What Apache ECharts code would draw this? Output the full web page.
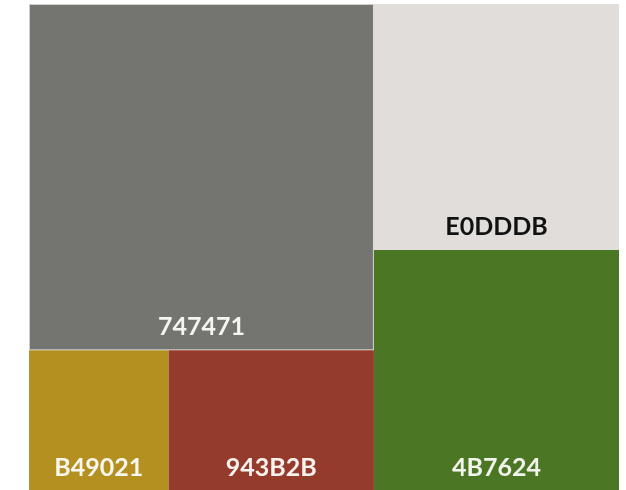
<!DOCTYPE html>
<html>
<head>
<meta charset="utf-8">
<script src="https://cdn.jsdelivr.net/npm/echarts@6/dist/echarts.min.js"></script>
<style>
html,body{margin:0;padding:0;background:#fff;}
#chart{width:626px;height:490px;}
</style>
</head>
<body>
<div id="chart"></div>
<script>
// Data (percent of total area)
const names = ['747471', 'B49021', '943B2B', 'E0DDDB', '4B7624'];
const values = [41.6, 6.8, 10.0, 21.0, 20.5];
const colors = ['#747471', '#B49021', '#943B2B', '#E0DDDB', '#4B7624'];
const labelColors = ['#f4f4f0', '#f8f6ee', '#f8f2ee', '#111111', '#f2f4ee'];
// grouping of the leaves (indices into the arrays above)
const groups = [[0, [1, 2]], [3, 4]];

function leaf(i) {
  const node = {
    name: names[i],
    value: values[i],
    itemStyle: { color: colors[i] },
    label: { color: labelColors[i] }
  };
  if (i === 0) {
    node.itemStyle.borderWidth = 1;
    node.itemStyle.borderColor = '#cfcdc9';
  }
  return node;
}
function build(g) {
  if (typeof g === 'number') return leaf(g);
  return { name: '', children: g.map(build) };
}
const treeData = groups.map(build);

const chart = echarts.init(document.getElementById('chart'));
chart.setOption({
  animation: false,
  series: [{
    type: 'treemap',
    left: 29, top: 4, width: 590, height: 486,
    squareRatio: 1,
    sort: false,
    roam: false,
    nodeClick: false,
    breadcrumb: { show: false },
    itemStyle: { borderWidth: 0, gapWidth: 0 },
    label: {
      show: true,
      formatter: '{b}',
      position: 'insideBottom',
      distance: 10,
      padding: 0,
      fontFamily: 'Lato',
      fontWeight: 'bold',
      fontSize: 25
    },
    upperLabel: { show: false },
    emphasis: { disabled: true },
    data: treeData
  }]
});
</script>
</body>
</html>
